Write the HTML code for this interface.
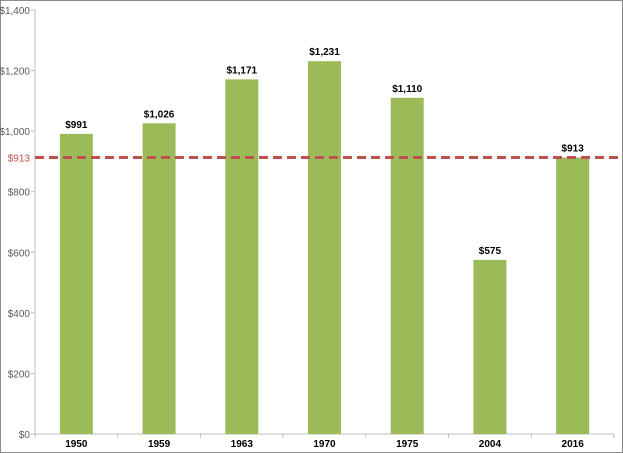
<!DOCTYPE html>
<html><head><meta charset="utf-8"><style>
body{margin:0;background:#fff;}
svg{display:block;font-family:"Liberation Sans",sans-serif;}
</style></head><body>
<svg id="chart" width="623" height="453">
<rect x="0.5" y="0.5" width="622" height="452" fill="#fff" stroke="#8c8c8c"/>
<g id="g"></g>
</svg>
<script>
const categories=["1950","1959","1963","1970","1975","2004","2016"];
const values=[991,1026,1171,1231,1110,575,913];
const labels=["$991","$1,026","$1,171","$1,231","$1,110","$575","$913"];
const yTicks=[0,200,400,600,800,1000,1200,1400];
const yTickLabels=["$0","$200","$400","$600","$800","$1,000","$1,200","$1,400"];
const refValue=913;
const refLabel="$913";
const ns="http://www.w3.org/2000/svg";
const g=document.getElementById('g');
const X0=35,X1=614,Y0=434,Y1=10,YMAX=1400;
const bw=(X1-X0)/categories.length;
function y(v){return Y0-(v/YMAX)*(Y0-Y1);}
function xc(i){return X0+bw*(i+0.5);}
function el(t,a,txt){const e=document.createElementNS(ns,t);for(const k in a)e.setAttribute(k,a[k]);if(txt!=null)e.textContent=txt;g.appendChild(e);return e;}
let ax=el('line',{x1:X0,y1:Y1,x2:X0,y2:Y0,stroke:'#bfbfbf'});


let bx=el('line',{x1:X0,y1:Y0,x2:X1,y2:Y0,stroke:'#bfbfbf'});


yTicks.forEach((t,i)=>{
 if(t===800){ }
 const tk=el('line',{x1:X0-4,y1:y(t),x2:X0,y2:y(t),stroke:'#bfbfbf'});
 
 
 const tx=el('text',{x:X0-5,y:y(t)+4,'text-anchor':'end','font-size':'10',fill:'#595959'},yTickLabels[i]);
 
 
});
for(let i=0;i<=categories.length;i++){
 const tk=el('line',{x1:X0+bw*i,y1:Y0,x2:X0+bw*i,y2:Y0+4,stroke:'#bfbfbf'});
 
 
}
categories.forEach((c,i)=>{
 const w=33;
 const b=el('rect',{x:xc(i)-w/2,y:y(values[i]),width:w,height:Y0-y(values[i]),fill:'#9bbb59'});
 
 
 const l=el('text',{x:xc(i),y:y(values[i])-6,'text-anchor':'middle','font-size':'10','font-weight':'bold',fill:'#000'},labels[i]);
 
 
 const cl=el('text',{x:xc(i),y:447,'text-anchor':'middle','font-size':'10','font-weight':'bold',fill:'#000'},c);
 
 
});
const rl=el('line',{x1:X0,y1:y(refValue),x2:622,y2:y(refValue),stroke:'#c0504d','stroke-width':3,'stroke-dasharray':'9,5'});


const rt=el('text',{x:X0-5,y:y(refValue)+4,'text-anchor':'end','font-size':'10',fill:'#c0504d'},refLabel);


</script>
</body></html>
